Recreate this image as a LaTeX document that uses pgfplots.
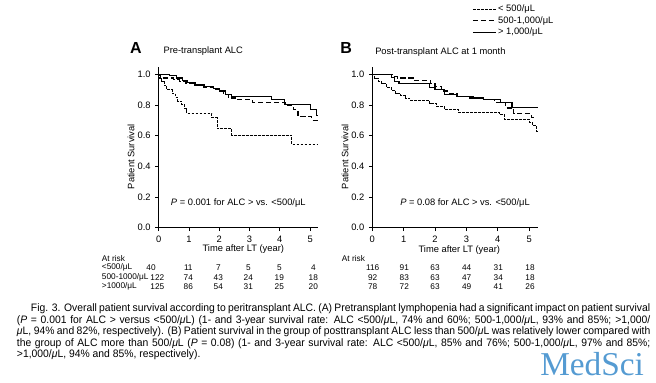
\documentclass[border=0pt]{standalone}
\usepackage{fontspec}
\setmainfont{Liberation Sans}
\newfontfamily\capfont[FakeStretch=0.96]{Liberation Sans}
\newfontfamily\wmfont{Liberation Serif}
\usepackage{pgfplots}
\pgfplotsset{compat=1.18}
\definecolor{wm}{RGB}{85,155,210}

\pgfplotsset{
  km/.style={
    scale only axis, height=120.9pt,
    xmin=0, ymin=0, ymax=1.05,
    axis x line*=bottom, axis y line*=left,
    axis line style={line width=0.6pt},
    every tick/.style={black, line width=0.6pt},
    major tick length=2.5pt, tick align=outside,
    xtick={0,1,2,3,4,5}, ytick={0,0.2,0.4,0.6,0.8,1},
    /pgf/number format/assume math mode=true,
    yticklabel style={/pgf/number format/.cd,fixed,fixed zerofill,precision=1,assume math mode=true},
    ticklabel style={font=\fontsize{7}{8}\selectfont},
    clip=false, const plot,
  },
  lt500/.style={black, line width=0.7pt, dash pattern=on 2.2pt off 0.8pt},
  lt1000/.style={black, line width=0.9pt, dash pattern=on 3.8pt off 2.2pt},
  gt1000/.style={black, line width=0.9pt},
}

\begin{document}
\begin{tikzpicture}[font=\fontsize{7}{8.4}\selectfont]
\path[use as bounding box] (0,0) rectangle (492pt,286.5pt);

% ---------------- Panel A ----------------
\begin{axis}[km, at={(119.0pt,115.7pt)}, anchor=south west, width=119.7pt, xmax=5.27]
\addplot[lt500] coordinates {(0,1.0) (0.04,0.975) (0.1,0.95) (0.18,0.925) (0.26,0.90) (0.45,0.875) (0.55,0.85) (0.62,0.825) (0.75,0.80) (0.85,0.775) (0.93,0.745) (1.75,0.715) (1.93,0.645) (2.41,0.603) (4.39,0.543) (5.27,0.543)};
\addplot[lt1000] coordinates {(0,1.0) (0.05,0.975) (0.5,0.965) (0.7,0.95) (0.9,0.94) (1.2,0.925) (1.5,0.915) (1.8,0.90) (2.0,0.885) (2.15,0.87) (2.3,0.845) (2.6,0.835) (3.1,0.815) (4.2,0.795) (4.45,0.77) (4.6,0.725) (5.05,0.70) (5.27,0.70)};
\addplot[gt1000] coordinates {(0,1.0) (0.35,0.99) (0.6,0.975) (0.8,0.96) (0.95,0.945) (1.2,0.93) (1.5,0.92) (1.8,0.905) (2.0,0.89) (2.2,0.87) (2.4,0.855) (3.73,0.835) (4.15,0.805) (5.02,0.77) (5.2,0.73) (5.27,0.73)};
\end{axis}

% ---------------- Panel B ----------------
\begin{axis}[km, at={(279.2pt,115.7pt)}, anchor=south west, width=124.3pt, xmax=5.28,
  legend style={at={(0.602,1.395)}, anchor=north west, draw=none, fill=none,
    font=\fontsize{7}{8}\selectfont, inner sep=0pt, row sep=0pt,
    nodes={inner sep=1pt, text height=5.2pt, text depth=1.6pt}},
  legend cell align=left,
  legend image code/.code={\draw[#1] (0pt,0pt) -- (17.5pt,0pt);}]
\addplot[lt500] coordinates {(0,1.0) (0.08,0.975) (0.2,0.955) (0.3,0.94) (0.45,0.915) (0.6,0.895) (0.75,0.875) (0.9,0.86) (1.05,0.845) (1.2,0.83) (1.83,0.81) (2.04,0.79) (2.3,0.77) (2.74,0.752) (4.06,0.737) (4.21,0.705) (5.01,0.685) (5.1,0.665) (5.22,0.63) (5.28,0.63)};
\addlegendentry{< 500/μL}
\addplot[lt1000] coordinates {(0,1.0) (0.65,0.985) (0.8,0.975) (1.3,0.958) (1.85,0.94) (2.0,0.92) (2.2,0.89) (2.4,0.875) (2.7,0.855) (3.1,0.845) (3.5,0.835) (3.9,0.815) (4.25,0.78) (4.5,0.745) (5.06,0.72) (5.2,0.72)};
\addlegendentry{500-1,000/μL}
\addplot[gt1000] coordinates {(0,1.0) (0.62,0.976) (0.72,0.955) (0.85,0.937) (1.83,0.915) (2.0,0.90) (2.3,0.867) (2.7,0.856) (3.23,0.845) (3.55,0.834) (4.08,0.817) (4.45,0.785) (5.28,0.785)};
\addlegendentry{> 1,000/μL}
\end{axis}

\begin{scope}[x=0.75pt,y=-0.75pt,yshift=286.5pt]
% titles
\node[font=\fontsize{12}{12}\bfseries\selectfont] at (135.8,48.3) {A};
\node[anchor=west, inner sep=0pt] at (163.3,51) {Pre-transplant ALC};
\node[font=\fontsize{12}{12}\bfseries\selectfont] at (346.2,47.5) {B};
\node[anchor=west, inner sep=0pt] at (375,51.7) {Post-transplant ALC at 1 month};
% axis labels
\node[rotate=90] at (131,156.7) {Patient Survival};
\node[rotate=90] at (345,156.7) {Patient Survival};
\node at (243.3,248.8) {Time after LT (year)};
\node at (459.3,250.2) {Time after LT (year)};
% P values
\node at (238.3,203.3) {\textit{P} = 0.001 for ALC > vs. <500/μL};
\node at (465,203.3) {\textit{P} = 0.08 for ALC > vs. <500/μL};
% at risk tables
\begin{scope}[every node/.style={font=\fontsize{6.2}{7}\selectfont}]
\node[anchor=west, inner sep=0pt] at (101.7,258.3) {At risk};
\node[anchor=west, inner sep=0pt] at (101.7,267.7) {<500/μL};
\node[anchor=west, inner sep=0pt] at (101.7,277.3) {500-1000/μL};
\node[anchor=west, inner sep=0pt] at (101.7,286.7) {>1000/μL};
\foreach \x/\v in {151/40,188.3/11,218.3/7,248.3/5,279.3/5,313.3/4}
  \node at (\x,267.7) {\v};
\foreach \x/\v in {157.3/122,188.3/74,218.3/43,248.3/24,279.3/19,313.3/18}
  \node at (\x,277.3) {\v};
\foreach \x/\v in {157.3/125,188.3/86,218.3/54,248.3/31,279.3/25,313.3/20}
  \node at (\x,286.7) {\v};
\node[anchor=west, inner sep=0pt] at (341.7,258.3) {At risk};
\foreach \x/\v in {372.7/116,404.3/91,435/63,466.7/44,498.3/31,530/18}
  \node at (\x,267.7) {\v};
\foreach \x/\v in {372.7/92,404.3/83,435/63,466.7/47,498.3/34,530/18}
  \node at (\x,277.3) {\v};
\foreach \x/\v in {372.7/78,404.3/72,435/63,466.7/49,498.3/41,530/26}
  \node at (\x,286.7) {\v};
\end{scope}
% caption
\begin{scope}[every node/.style={anchor=base west, inner sep=0pt, font=\capfont\fontsize{8.1}{9}\selectfont}]
\node at (30.7,311.8) {\makebox[464.5pt][s]{Fig. 3. Overall patient survival according to peritransplant ALC. (A) Pretransplant lymphopenia had a significant impact on patient survival}};
\node at (16.7,323.3) {\makebox[475pt][s]{(\textit{P} = 0.001 for ALC > versus <500/\textit{μ}L) (1- and 3-year survival rate: ALC <500/\textit{μ}L, 74\% and 60\%; 500-1,000/\textit{μ}L, 93\% and 85\%; >1,000/}};
\node at (16.7,334.8) {\makebox[475pt][s]{\textit{μ}L, 94\% and 82\%, respectively). (B) Patient survival in the group of posttransplant ALC less than 500/\textit{μ}L was relatively lower compared with}};
\node at (16.7,346.3) {\makebox[475pt][s]{the group of ALC more than 500/\textit{μ}L (\textit{P} = 0.08) (1- and 3-year survival rate: ALC <500/\textit{μ}L, 85\% and 76\%; 500-1,000/\textit{μ}L, 97\% and 85\%;}};
\node at (16.7,357.8) {>1,000/\textit{μ}L, 94\% and 85\%, respectively).};
\end{scope}
% watermark
\node[anchor=base west, inner sep=0pt, text=wm, font=\wmfont\fontsize{25}{26}\selectfont] at (540,375.5) {MedSci};
\end{scope}
\end{tikzpicture}
\end{document}
